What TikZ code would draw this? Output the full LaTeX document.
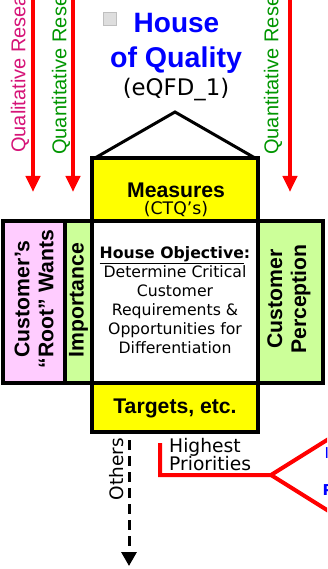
\documentclass[tikz,border=0pt]{standalone}
\usepackage{fontspec}
\setmainfont{Liberation Sans}
\newfontfamily\dvs{DejaVu Sans}
\usetikzlibrary{arrows.meta}
\definecolor{qpink}{RGB}{214,20,120}
\definecolor{qgreen}{RGB}{0,150,0}
\definecolor{boxpink}{RGB}{255,204,255}
\definecolor{boxgreen}{RGB}{204,255,153}
\definecolor{boxyellow}{RGB}{255,255,0}
\definecolor{titleblue}{RGB}{0,0,255}
\begin{document}
\begin{tikzpicture}[x=1pt,y=-1pt,
  hbox/.style={draw=black, line width=3.5pt, inner sep=0pt, outer sep=0pt, rectangle},
  redarrow/.style={draw=red, line width=4pt, -{Triangle[width=14pt,length=16pt]}},
  sidetext/.style={rotate=90, anchor=west, inner sep=0pt, font=\fontsize{20}{22}\selectfont},
  lbl/.style={font=\fontsize{21.2}{24}\selectfont\bfseries, align=center, inner sep=0pt},
  body/.style={font=\dvs\fontsize{15.7}{19}\selectfont, align=center, inner sep=0pt},
  bluefrag/.style={text=titleblue, anchor=west, inner sep=0pt, font=\dvs\fontsize{15}{16}\selectfont},
]
\useasboundingbox (0,0) rectangle (327,569);
\clip (0,0) rectangle (327,569);
\fill[white] (0,0) rectangle (327,569);

% research arrows and labels
\node[sidetext, text=qpink] (qual) at (20,153) {Qualitative Research};
\node[sidetext, text=qgreen] (quan1) at (61,155) {Quantitative Research};
\node[sidetext, text=qgreen] (quan2) at (273,155) {Quantitative Research};
\coordinate (a1s) at (33,-5);  \coordinate (a1e) at (33,192);
\coordinate (a2s) at (73,-5);  \coordinate (a2e) at (73,192);
\coordinate (a3s) at (290,-5); \coordinate (a3e) at (290,192);
\draw[redarrow] (a1s) -- (a1e);
\draw[redarrow] (a2s) -- (a2e);
\draw[redarrow] (a3s) -- (a3e);

% title
\node[draw=black!25, fill=black!13, minimum size=13pt, inner sep=0pt] (bullet) at (110,19) {};
\node[font=\fontsize{28}{30}\selectfont\bfseries, text=titleblue, anchor=base, inner sep=0pt] (t1) at (176.5,33) {House};
\node[font=\fontsize{28.6}{30}\selectfont\bfseries, text=titleblue, anchor=base, inner sep=0pt] (t2) at (176,68) {of Quality};
\node[font=\dvs\fontsize{22.8}{24}\selectfont, anchor=base, inner sep=0pt] (t3) at (176,96) {(eQFD\_1)};

% house boxes
\node[hbox, fill=boxyellow, minimum width=166pt, minimum height=63pt] (measures) at (175,189.5) {};
\node[hbox, fill=boxpink, minimum width=62pt, minimum height=162pt] (wants) at (34,302) {};
\node[hbox, fill=boxgreen, minimum width=27pt, minimum height=162pt] (imp) at (78.5,302) {};
\node[hbox, fill=white, minimum width=166pt, minimum height=162pt] (obj) at (175,302) {};
\node[hbox, fill=boxgreen, minimum width=65pt, minimum height=162pt] (perc) at (290.5,302) {};
\node[hbox, fill=boxyellow, minimum width=166pt, minimum height=49pt] (targets) at (175,407.5) {};

% roof
\coordinate (apex) at (175,112);
\draw[line width=3pt, line join=miter] ([xshift=3pt]measures.north west) -- (apex) -- ([xshift=-3pt]measures.north east);

% box texts
\node[lbl, anchor=base] (mtxt) at (176,197) {Measures};
\node[font=\dvs\fontsize{17.3}{18}\selectfont, anchor=base, inner sep=0pt] (ctq) at (176,214) {(CTQ’s)};
\node[lbl, rotate=90] (wtxt) at (34,299) {Customer’s\\“Root” Wants};
\node[lbl, rotate=90] (itxt) at (78.5,300) {Importance};
\node[lbl, rotate=90] (ptxt) at (289,299) {Customer\\Perception};
\node[body] (otxt) at (175,300) {\textbf{\underline{House Objective}:}\\Determine Critical\\Customer\\Requirements \&\\Opportunities for\\Differentiation};
\node[lbl, anchor=base] (ttxt) at (175,413) {Targets, etc.};

% others
\coordinate (o1) at (129,440);
\coordinate (o2) at (129,566);
\draw[line width=3pt, dash pattern=on 10pt off 6pt, -{Triangle[width=15pt,length=14pt]}] (o1) -- (o2);
\node[rotate=90, inner sep=0pt, font=\dvs\fontsize{18.5}{20}\selectfont] (others) at (117,469) {Others};

% highest priorities
\coordinate (h1) at (160,443);
\coordinate (h2) at (160,475);
\coordinate (h3) at (271,475);
\coordinate (h4) at (343,430);
\coordinate (h5) at (343,520);
\draw[red, line width=4pt, line join=miter] (h1) -- (h2) -- (h3) -- (h4);
\draw[red, line width=4pt] (h3) -- (h5);
\node[anchor=base west, inner sep=0pt, font=\dvs\fontsize{18.7}{20}\selectfont] (hi) at (169,452) {Highest};
\node[anchor=base west, inner sep=0pt, font=\dvs\fontsize{18.7}{20}\selectfont] (pr) at (169,470) {Priorities};
\node[bluefrag, anchor=base west] (b1) at (324.5,458) {I};
\node[bluefrag, anchor=base west, font=\dvs\bfseries\fontsize{15}{16}\selectfont] (b2) at (322.5,495) {P};
\end{tikzpicture}
\end{document}
